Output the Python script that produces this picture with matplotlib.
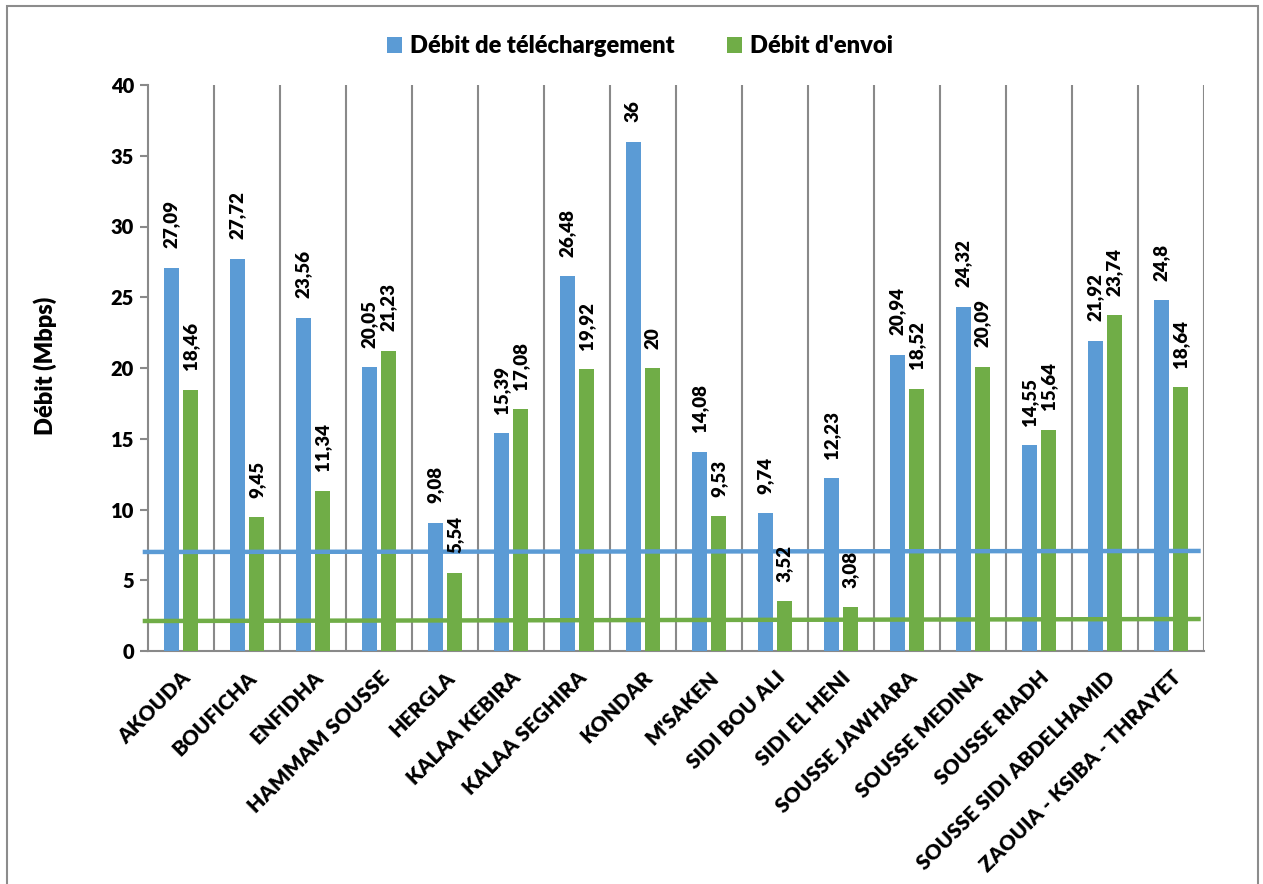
import matplotlib
matplotlib.use("Agg")
import matplotlib.pyplot as plt
from matplotlib.patches import Rectangle
import numpy as np

plt.rcParams['font.family'] = ['Lato', 'DejaVu Sans']

categories = ["AKOUDA", "BOUFICHA", "ENFIDHA", "HAMMAM SOUSSE", "HERGLA", "KALAA KEBIRA",
              "KALAA SEGHIRA", "KONDAR", "M'SAKEN", "SIDI BOU ALI", "SIDI EL HENI",
              "SOUSSE JAWHARA", "SOUSSE MEDINA", "SOUSSE RIADH", "SOUSSE SIDI ABDELHAMID",
              "ZAOUIA - KSIBA - THRAYET"]
download = [27.09, 27.72, 23.56, 20.05, 9.08, 15.39, 26.48, 36, 14.08, 9.74, 12.23,
            20.94, 24.32, 14.55, 21.92, 24.8]
upload = [18.46, 9.45, 11.34, 21.23, 5.54, 17.08, 19.92, 20, 9.53, 3.52, 3.08,
          18.52, 20.09, 15.64, 23.74, 18.64]
download_ref = [7.0, 7.07]
upload_ref = [2.12, 2.26]
yticks = [0, 5, 10, 15, 20, 25, 30, 35, 40]
series_names = ["Débit de téléchargement", "Débit d'envoi"]

BLUE = "#5B9BD5"
GREEN = "#70AD47"
GRID = "#898989"

fig = plt.figure(figsize=(12.63, 8.84), dpi=100)
fig.patches.append(Rectangle((7/1263, -0.01), (1258-7)/1263, 1.01 - 6/884,
                             transform=fig.transFigure, fill=False,
                             edgecolor="#8c8c8c", linewidth=1.5))
ax = fig.add_axes([148/1263, (884-651)/884, (1204-148)/1263, (651-85)/884])

x = np.arange(len(categories))
w = 0.215
off = 0.145
b1 = ax.bar(x - off, download, width=w, color=BLUE, label=series_names[0], zorder=3)
b2 = ax.bar(x + off, upload, width=w, color=GREEN, label=series_names[1], zorder=3)

def fmt(v):
    s = ("%.2f" % v).rstrip("0").rstrip(".")
    return s.replace(".", ",")

for xs, vals in ((x - off, download), (x + off, upload)):
    for xi, v in zip(xs, vals):
        ax.annotate(fmt(v), (xi, v), xytext=(0, 14), textcoords="offset points",
                    rotation=90, ha="center", va="bottom", fontsize=13.5,
                    fontweight="heavy", color="black", zorder=5)

# reference lines
ax.plot([-0.58, 15.45], download_ref, color=BLUE, linewidth=3.2, clip_on=False, zorder=4,
        solid_capstyle="butt")
ax.plot([-0.58, 15.45], upload_ref, color=GREEN, linewidth=3.2, clip_on=False, zorder=4,
        solid_capstyle="butt")

ax.set_xlim(-0.5, len(categories) - 0.5)
ax.set_ylim(0, 40)
ax.set_yticks(yticks)
ax.set_yticklabels([str(t) for t in yticks], fontsize=14.5, fontweight="heavy")
for b in np.arange(0.5, len(categories), 1.0):
    ax.axvline(b, color=GRID, linewidth=1.5, zorder=1)

ax.set_xticks(x)
ax.set_xticklabels(categories, rotation=45, ha="right", rotation_mode="anchor",
                   fontsize=15, fontweight="heavy")
ax.tick_params(axis="x", length=0, pad=12)
ax.tick_params(axis="y", length=6, color=GRID, width=1.5, pad=4)

for s in ("top", "right"):
    ax.spines[s].set_visible(False)
for s in ("left", "bottom"):
    ax.spines[s].set_color(GRID)
    ax.spines[s].set_linewidth(1.5)

fig.text(45/1263, (884-366)/884, "Débit (Mbps)", rotation=90, ha="center", va="center",
         fontsize=17, fontweight="heavy")

leg = fig.legend(handles=[b1, b2], labels=series_names, loc="center",
                 bbox_to_anchor=(640/1263, (884-46)/884), ncol=2, frameon=False,
                 prop={"size": 17, "weight": "heavy"}, handlelength=0.65,
                 handleheight=0.65, handletextpad=0.35, columnspacing=2.2)

fig.savefig("out.png", dpi=100)
